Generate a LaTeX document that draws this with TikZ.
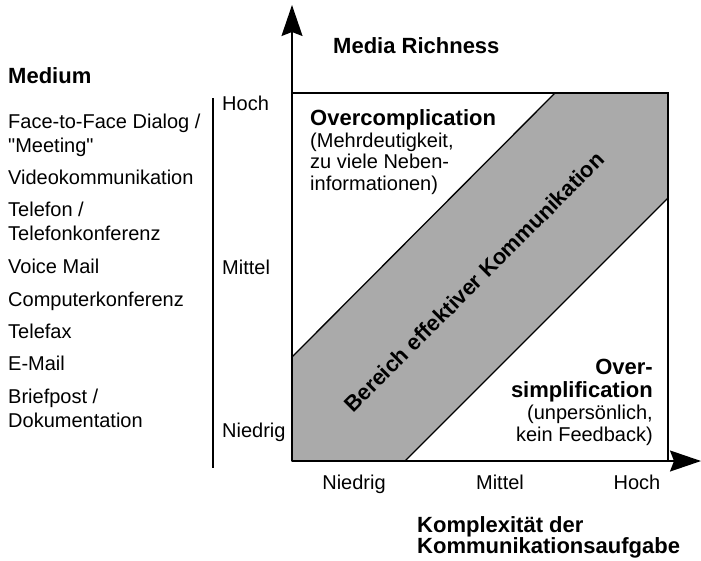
\documentclass[tikz,border=0pt]{standalone}
\usepackage{fontspec}
\setmainfont{Liberation Sans}
\usepackage{tikz}
\usetikzlibrary{arrows.meta}
\definecolor{bandgray}{HTML}{AAAAAA}
\tikzstyle{txt} = [inner sep=0pt, font=\fontsize{20}{23.5}\selectfont]
\tikzstyle{heading} = [inner sep=0pt, font=\fontsize{22}{24}\selectfont\bfseries]
\tikzstyle{axis} = [-{Stealth[length=31pt, width=21pt, inset=4pt]}, line width=1.6pt]
\tikzstyle{band} = [fill=bandgray, draw=black, line width=1.3pt]

\begin{document}
\begin{tikzpicture}[x=1pt, y=-1pt]
	\useasboundingbox (0,0) rectangle (701,560);
	% corners of the diagram
	\coordinate (O) at (292,461);
	\coordinate (ytip) at (292,5);
	\coordinate (xtip) at (701,461);
	\coordinate (top) at (292,93);
	\coordinate (corner) at (668,93);
	\coordinate (right) at (668,461);
	% shaded band
	\draw [band] (292,357) -- (555,93) -- (668,93) -- (668,198) -- (405,461) -- (O) -- cycle;
	\draw [line width=1.6pt] (top) -- (corner) -- (right);
	\draw [axis] (O) -- (ytip);
	\draw [axis] (O) -- (xtip);
	\node (band) [heading, rotate=45] at (474,282) {Bereich effektiver Kommunikation};
	% regions (base = last line)
	\node (over) [heading, anchor=base west] at (310,125) {Overcomplication};
	\node (overnote) [txt, align=left, anchor=base west, font=\fontsize{20}{21.5}\selectfont] at (310,190) {(Mehrdeutigkeit,\\zu viele Neben-\\informationen)};
	\node (under) [heading, align=right, anchor=base east, font=\fontsize{22}{23}\selectfont\bfseries] at (653,397) {Over-\\simplification};
	\node (undernote) [txt, align=right, anchor=base east, font=\fontsize{20}{22}\selectfont] at (653,441) {(unpers\"onlich,\\kein Feedback)};
	% axis titles
	\node (ytitle) [heading, anchor=base west] at (333,53) {Media Richness};
	\node (xtitle) [heading, align=left, anchor=base west, font=\fontsize{22}{21}\selectfont\bfseries] at (417,553) {Komplexit\"at der\\Kommunikationsaufgabe};
	\node (yhigh) [txt, anchor=base west] at (222,110) {Hoch};
	\node (ymid) [txt, anchor=base west] at (222,274) {Mittel};
	\node (ylow) [txt, anchor=base west] at (222,437) {Niedrig};
	\node (xlow) [txt, anchor=base] at (354,489) {Niedrig};
	\node (xmid) [txt, anchor=base] at (500,489) {Mittel};
	\node (xhigh) [txt, anchor=base] at (637,489) {Hoch};
	% media scale
	\coordinate (scaletop) at (213,98);
	\coordinate (scalebot) at (213,468);
	\draw [line width=1.6pt] (scaletop) -- (scalebot);
	\node (medium) [heading, anchor=base west] at (8,83) {Medium};
	\node (m1) [txt, align=left, anchor=base west] at (8,152) {Face-to-Face Dialog /\\\textquotedbl Meeting\textquotedbl};
	\node (m2) [txt, anchor=base west] at (8,184) {Videokommunikation};
	\node (m3) [txt, align=left, anchor=base west] at (8,240) {Telefon /\\Telefonkonferenz};
	\node (m4) [txt, anchor=base west] at (8,273) {Voice Mail};
	\node (m5) [txt, anchor=base west] at (8,306) {Computerkonferenz};
	\node (m6) [txt, anchor=base west] at (8,338) {Telefax};
	\node (m7) [txt, anchor=base west] at (8,370) {E-Mail};
	\node (m8) [txt, align=left, anchor=base west] at (8,427) {Briefpost /\\Dokumentation};
\end{tikzpicture}
\end{document}
